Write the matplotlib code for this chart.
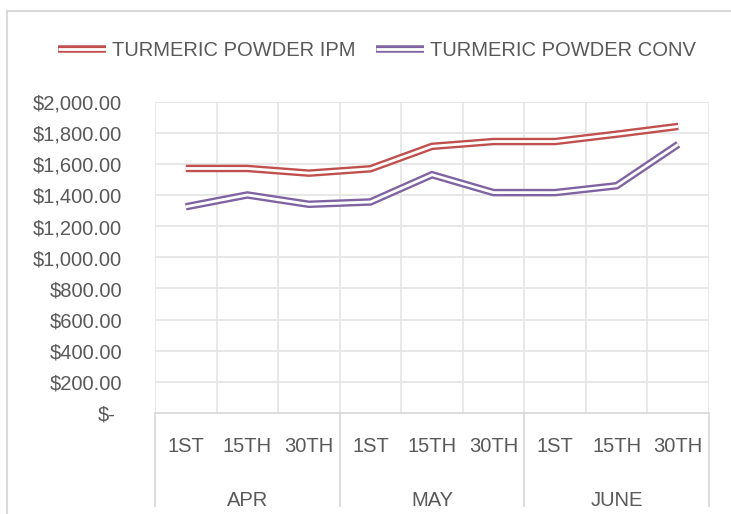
import matplotlib
matplotlib.use("Agg")
import matplotlib.pyplot as plt
import matplotlib.patheffects as pe
import matplotlib.transforms as mtrans
from matplotlib.lines import Line2D

plt.rcParams['font.family'] = ['Liberation Sans', 'DejaVu Sans']

days = ["1ST", "15TH", "30TH", "1ST", "15TH", "30TH", "1ST", "15TH", "30TH"]
months = ["APR", "MAY", "JUNE"]
ipm = [1570, 1570, 1540, 1568, 1712, 1743, 1743, 1790, 1840]
conv = [1324, 1400, 1340, 1355, 1530, 1415, 1415, 1459, 1725]
series_names = ["TURMERIC POWDER IPM", "TURMERIC POWDER CONV"]
colors = ["#C0504D", "#8064A2"]
yticks = [0, 200, 400, 600, 800, 1000, 1200, 1400, 1600, 1800, 2000]

W, H = 731, 514
fig = plt.figure(figsize=(W / 100, H / 100), dpi=100)
L, R, T, B = 155, 709, 101.5, 413
ax = fig.add_axes([L / W, 1 - B / H, (R - L) / W, (B - T) / H])
ax.set_xlim(-0.5, len(days) - 0.5)
ax.set_ylim(0, 2000)

grid_c = "#E6E6E6"
line_c = "#D9D9D9"
for y in yticks[1:]:
    ax.axhline(y, color=grid_c, lw=1.3, zorder=0)
for k in range(len(days) + 1):
    ax.axvline(k - 0.5, color=grid_c, lw=1.3, zorder=0)
for s in ax.spines.values():
    s.set_visible(False)
ax.set_xticks([])
ax.set_yticks([])

txt_c = "#595959"
fs = 14.5


def dbl(color):
    return [pe.Stroke(linewidth=5.4, foreground=color),
            pe.Stroke(linewidth=2.0, foreground="white")]


x = list(range(len(days)))
for vals, c in zip([ipm, conv], colors):
    ax.plot(x, vals, color=c, lw=5.4, solid_joinstyle="miter",
            solid_capstyle="butt", path_effects=dbl(c), zorder=3)

# category axis line
ax.plot([-0.5, len(days) - 0.5], [0, 0], color=line_c, lw=1.3,
        clip_on=False, zorder=2)

# y tick labels
for v in yticks:
    label = "$-" if v == 0 else "${:,.2f}".format(v)
    dx = -39 if v == 0 else -33
    tr = ax.transData + mtrans.ScaledTranslation(dx / 100, -2.5 / 100, fig.dpi_scale_trans)
    ax.text(-0.5, v, label, transform=tr, ha="right", va="center",
            fontsize=fs, color=txt_c, clip_on=False)

# x category labels
for i, d in enumerate(days):
    ax.annotate(d, xy=(i, 0), xycoords="data", xytext=(0, -33),
                textcoords="offset pixels", ha="center", va="center",
                fontsize=fs, color=txt_c, annotation_clip=False)
for j, m in enumerate(months):
    ax.annotate(m, xy=(3 * j + 1, 0), xycoords="data", xytext=(0, -87),
                textcoords="offset pixels", ha="center", va="center",
                fontsize=fs, color=txt_c, annotation_clip=False)

# group separators
sep_bottom = -(506 - B) / (B - T)
for j in range(len(months) + 1):
    xx = 3 * j - 0.5
    ax.plot([xx, xx], [0, sep_bottom], color=line_c, lw=1.3, clip_on=False,
            zorder=2, transform=ax.get_xaxis_transform())

# legend
handles = [Line2D([0], [0], color=c, lw=5.4, solid_capstyle="butt",
                  path_effects=dbl(c)) for c in colors]
fig.legend(handles, series_names, loc="center", bbox_to_anchor=(377 / W, 1 - 51 / H),
           ncol=2, frameon=False, fontsize=fs, labelcolor=txt_c,
           handlelength=2.4, handletextpad=0.3, columnspacing=1.0)

# chart border (left and top edges visible)
fig.add_artist(Line2D([7 / W, 7 / W], [0, 1 - 11 / H], color=line_c, lw=1.5,
                      transform=fig.transFigure))
fig.add_artist(Line2D([7 / W, 1], [1 - 11 / H, 1 - 11 / H], color=line_c, lw=1.5,
                      transform=fig.transFigure))

fig.savefig("out.png", dpi=100, facecolor="white")
